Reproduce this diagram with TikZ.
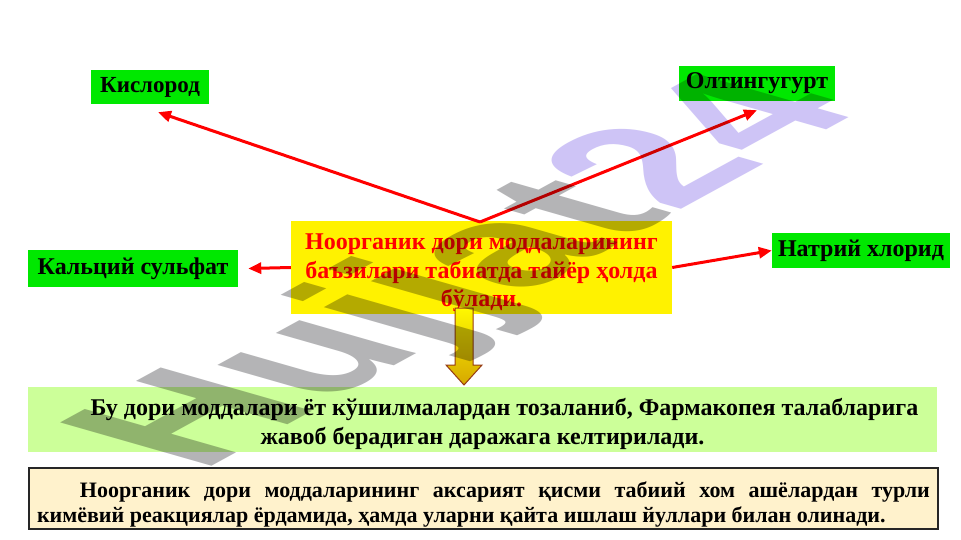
\documentclass[tikz,border=0pt]{standalone}
\usepackage{fontspec}
\setmainfont{Liberation Serif}
\newfontfamily\wmfont{Liberation Sans}
\usetikzlibrary{arrows.meta}
\definecolor{lblgreen}{RGB}{0,232,0}
\definecolor{lightgr}{RGB}{204,255,153}
\definecolor{cream}{RGB}{255,242,204}
\definecolor{wmgray}{RGB}{180,180,182}
\definecolor{wmpurple}{RGB}{206,196,246}
\definecolor{arrgold}{RGB}{214,168,0}
\definecolor{arrbrown}{RGB}{150,60,20}
\begin{document}
\begin{tikzpicture}[x=1pt,y=-1pt,
  lbl/.style={fill=lblgreen, inner sep=0pt, font=\fontsize{24}{28}\selectfont\bfseries},
  redarr/.style={draw=red, line width=3pt, -{Triangle[length=13pt,width=11pt]}},
  bigbox/.style={inner sep=0pt, font=\fontsize{24}{28.5}\selectfont\bfseries}]
\useasboundingbox (0,0) rectangle (961,540);
\fill[white] (0,0) rectangle (961,540);

% label boxes
\node[lbl, minimum width=118pt, minimum height=34pt, font=\fontsize{23}{27}\selectfont\bfseries] (kis) at (150,87) {Кислород};
\node[lbl, minimum width=156pt, minimum height=35pt] (olt) at (757,83.5) {Олтингугурт};
\node[lbl, minimum width=210pt, minimum height=37pt] (kal) at (133,268.5) {Кальций сульфат};
\node[lbl, minimum width=178pt, minimum height=35pt] (nat) at (861,250.5) {Натрий хлорид};

% centre box
\node[bigbox, fill=yellow, minimum width=381pt, minimum height=93pt] (yel) at (481.5,267.5) {};
\node[bigbox, text=red, align=center, anchor=north] (yeltxt) at (481.5,234) {Ноорганик дори моддаларининг\\баъзилари табиатда тайёр ҳолда\\бўлади.};

% green box
\node[bigbox, fill=lightgr, minimum width=909pt, minimum height=65pt] (grn) at (482.5,419.5) {};
\node[bigbox, align=center, font=\fontsize{24}{29}\selectfont\bfseries] (grntxt) at (482.5,424) {\hspace*{44pt}Бу дори моддалари ёт кўшилмалардан тозаланиб, Фармакопея талабларига\\жавоб берадиган даражага келтирилади.};

% cream box
\node[bigbox, fill=cream, draw={black!85}, line width=1.6pt, minimum width=909pt, minimum height=61pt] (crm) at (483.5,498.5) {};
\node[bigbox, text width=893pt, align=justify, font=\fontsize{22}{25}\selectfont\bfseries] (crmtxt) at (483.5,504) {\hspace*{43pt}Ноорганик дори моддаларининг аксарият қисми табиий хом ашёлардан турли\linebreak кимёвий реакциялар ёрдамида, ҳамда уларни қайта ишлаш йуллари билан олинади.};

% arrows
\coordinate (apex) at (480,222);
\draw[redarr] (apex) -- ([xshift=8pt,yshift=-8pt]kis.south);
\draw[redarr] (apex) -- ([yshift=-9pt]olt.south);
\draw[redarr] (yel.west) -- ([xshift=10pt]kal.east);
\draw[redarr] (yel.east) -- (nat.west);

% down block arrow
\shade[top color=yellow!95!orange, bottom color=arrgold, draw=arrbrown, line width=1pt]
  (455,308) -- (473,308) -- (473,365) -- (482,365) -- (464,385) -- (446,365) -- (455,365) -- cycle;

% watermark
\begin{scope}[blend mode=multiply]
\begin{scope}[shift={(476,274)}, cm={1.71,0.935,-2.2,0.63,(0,0)}, transform shape]
\node[inner sep=0pt, font=\wmfont\bfseries\fontsize{100}{100}\selectfont] (wm) {\textcolor{wmgray}{Hujjat}\textcolor{wmpurple}{24}};
\end{scope}
\end{scope}
\end{tikzpicture}
\end{document}
